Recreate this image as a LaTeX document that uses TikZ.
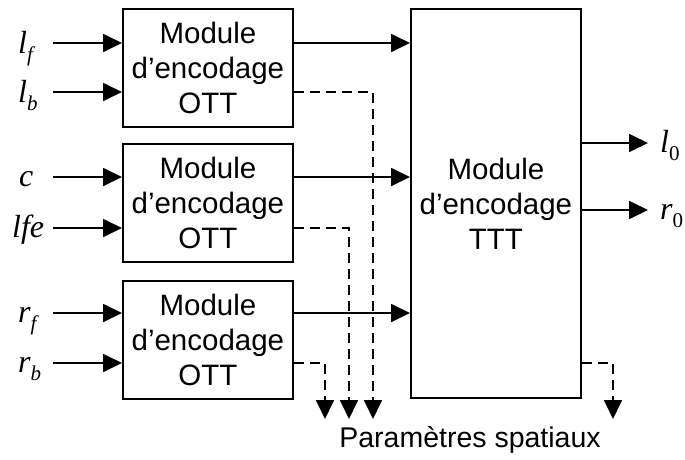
\documentclass[tikz,border=0pt]{standalone}
\usepackage{fontspec}
\setmainfont{Liberation Sans}
\newfontfamily\tms{Liberation Serif}
\usetikzlibrary{arrows.meta}
\newcommand{\lab}[2]{{\tms\itshape #1\raisebox{-0.25em}{\fontsize{21}{21}\selectfont #2}}}
\newcommand{\labu}[2]{{\tms\itshape #1\raisebox{-0.25em}{\upshape\fontsize{21}{21}\selectfont #2}}}
\begin{document}
\begin{tikzpicture}[x=1pt,y=-1pt,
  box/.style={draw,line width=1.8pt,anchor=north west,minimum width=170pt,align=center,
    font=\fontsize{29.5}{35}\selectfont,inner sep=0pt},
  arr/.style={line width=1.8pt,-{Triangle[length=19pt,width=18pt]}},
  dsh/.style={line width=1.8pt,dash pattern=on 10pt off 6pt,-{Triangle[length=19pt,width=18pt]}},
  lbl/.style={font=\fontsize{32}{32}\selectfont,inner sep=0pt,anchor=base west}]
\useasboundingbox (0,0) rectangle (685,459);
% boxes
\node[box,minimum height=118pt] (m1) at (122,8) {Module\\d'encodage\\OTT};
\node[box,minimum height=118pt] (m2) at (122,143) {Module\\d'encodage\\OTT};
\node[box,minimum height=118pt] (m3) at (122,280) {Module\\d'encodage\\OTT};
\node[box,minimum height=389pt] (t) at (410,8) {Module\\d'encodage\\TTT};
% level coordinates
\coordinate (y1) at (0,43);
\coordinate (y2) at (0,92);
\coordinate (y3) at (0,177);
\coordinate (y4) at (0,228);
\coordinate (y5) at (0,313);
\coordinate (y6) at (0,363);
\coordinate (o1) at (0,143);
\coordinate (o2) at (0,210);
% input starts
\coordinate (i1) at (53,43);
\coordinate (i2) at (53,92);
\coordinate (i3) at (53,177);
\coordinate (i4) at (53,228);
\coordinate (i5) at (53,313);
\coordinate (i6) at (53,363);
% labels (base line positions)
\node[lbl] (L1) at (18,53) {\lab{l}{f}};
\node[lbl] (L2) at (18,102) {\lab{l}{b}};
\node[lbl] (L3) at (19,186) {\lab{c}{}};
\node[lbl] (L4) at (12,237) {\lab{lfe}{}};
\node[lbl] (L5) at (18,322) {\lab{r}{f}};
\node[lbl] (L6) at (18,372) {\lab{r}{b}};
% input arrows
\draw[arr] (i1) -- (m1.west |- y1);
\draw[arr] (i2) -- (m1.west |- y2);
\draw[arr] (i3) -- (m2.west |- y3);
\draw[arr] (i4) -- (m2.west |- y4);
\draw[arr] (i5) -- (m3.west |- y5);
\draw[arr] (i6) -- (m3.west |- y6);
% OTT to TTT
\draw[arr] (m1.east |- y1) -- (t.west |- y1);
\draw[arr] (m2.east |- y3) -- (t.west |- y3);
\draw[arr] (m3.east |- y5) -- (t.west |- y5);
% dashed parameter outputs
\coordinate (d1) at (373,419);
\coordinate (d2) at (349,419);
\coordinate (d3) at (325,419);
\coordinate (d4) at (613,419);
\draw[dsh] (m1.east |- y2) -| (d1);
\draw[dsh] (m2.east |- y4) -| (d2);
\draw[dsh] (m3.east |- y6) -| (d3);
\draw[dsh] (t.east |- y6) -| (d4);
% outputs
\coordinate (e1) at (648,143);
\coordinate (e2) at (648,210);
\draw[arr] (t.east |- o1) -- (e1);
\draw[arr] (t.east |- o2) -- (e2);
\node[lbl] (R1) at (660,152) {\labu{l}{0}};
\node[lbl] (R2) at (660,219) {\labu{r}{0}};
\node[font=\fontsize{28.5}{30}\selectfont,inner sep=0pt] (P) at (470,440) {Paramètres spatiaux};
\end{tikzpicture}
\end{document}
